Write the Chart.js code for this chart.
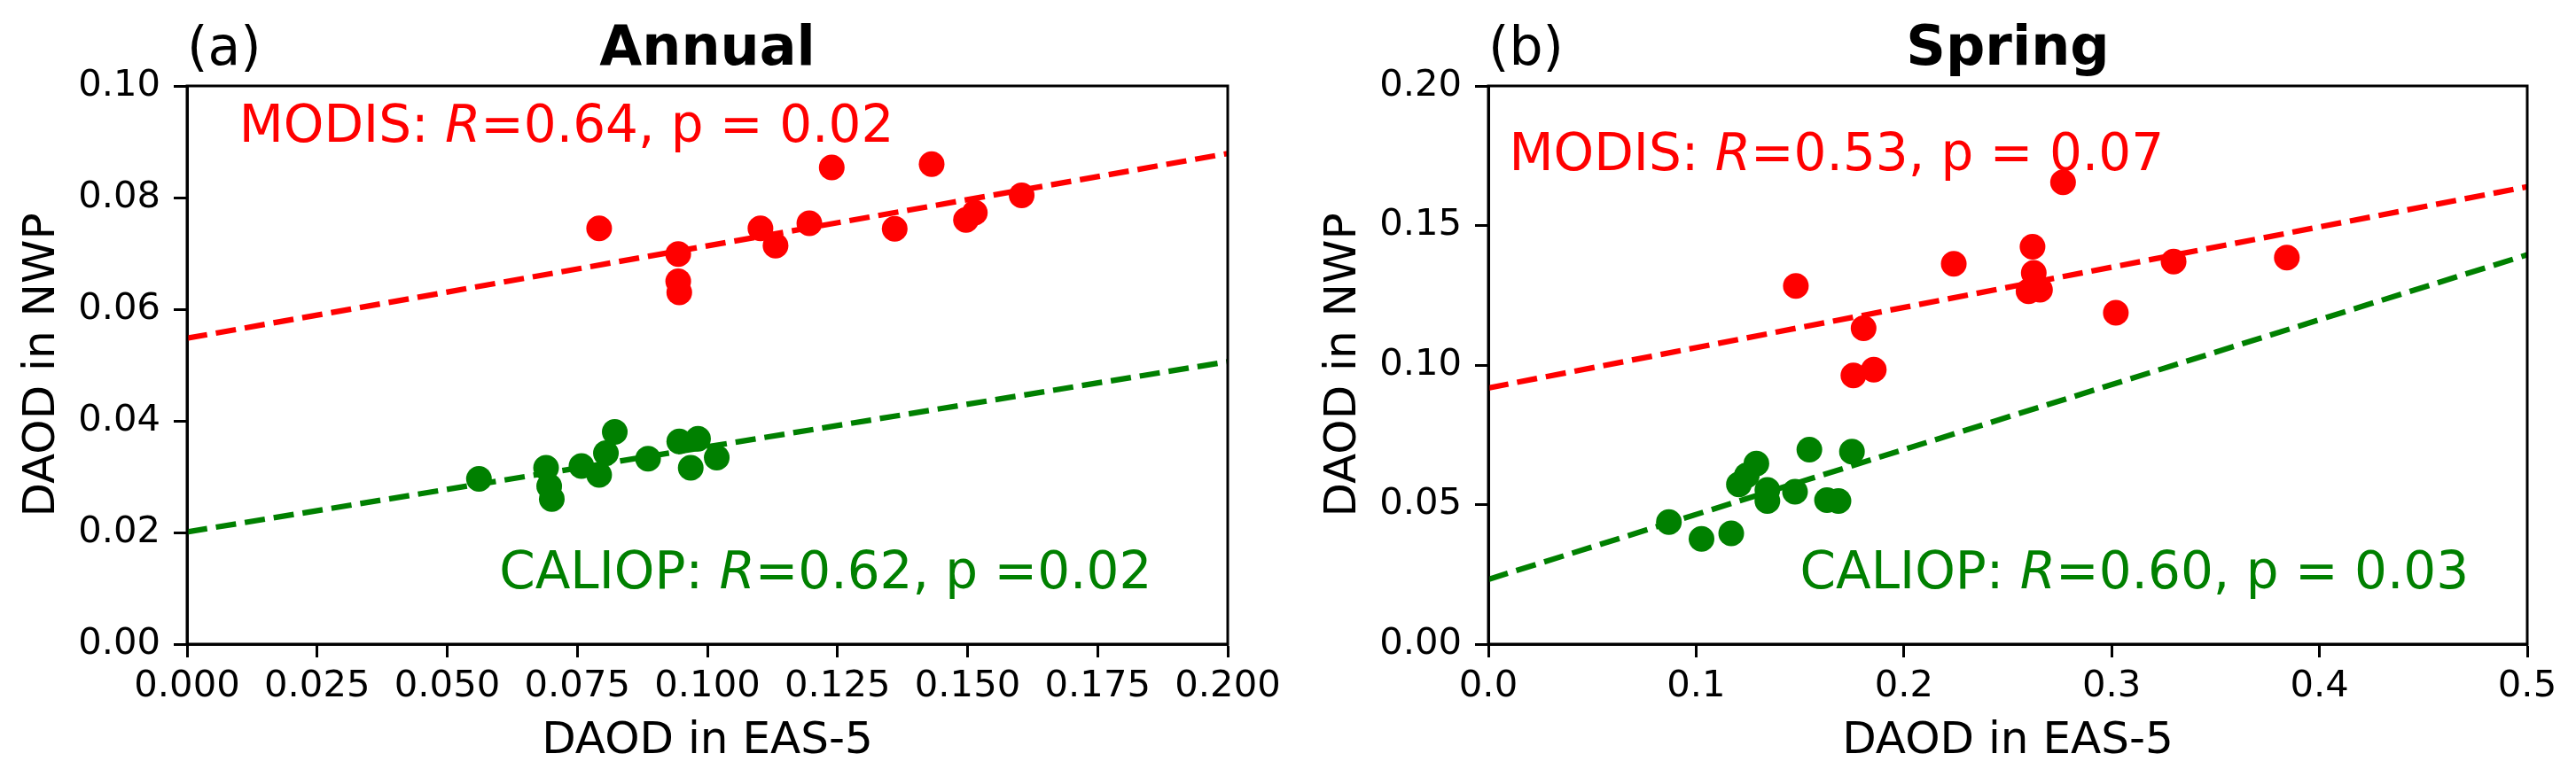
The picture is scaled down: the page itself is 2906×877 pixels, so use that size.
<!DOCTYPE html>
<html>
<head>
<meta charset="utf-8">
<script src="https://cdn.jsdelivr.net/npm/chart.js@4.4.0/dist/chart.umd.min.js"></script>
<style>
html, body { margin: 0; padding: 0; background: #fff; }
#wrap { position: relative; width: 2906px; height: 877px; }
canvas { position: absolute; top: 0; }
</style>
</head>
<body>
<div id="wrap">
<canvas id="annualChart" width="1453" height="877" style="left:0px"></canvas>
<canvas id="springChart" width="1453" height="877" style="left:1453px"></canvas>
</div>
<script>
// (a) Annual
const annualModisX = [0.0792, 0.0944, 0.0944, 0.0946, 0.1102, 0.1131, 0.1196, 0.1239, 0.1360, 0.1431, 0.1497, 0.1514, 0.1604];
const annualModisY = [0.0745, 0.0699, 0.0650, 0.0630, 0.0745, 0.0714, 0.0754, 0.0854, 0.0744, 0.0860, 0.0760, 0.0773, 0.0804];
const annualCaliopX = [0.0561, 0.0690, 0.0696, 0.0701, 0.0758, 0.0792, 0.0805, 0.0822, 0.0886, 0.0946, 0.0968, 0.0982, 0.1018];
const annualCaliopY = [0.0296, 0.0316, 0.0283, 0.0260, 0.0319, 0.0303, 0.0342, 0.0380, 0.0332, 0.0363, 0.0316, 0.0368, 0.0334];
const annualFitX = [0, 0.2];
const annualModisFit = [0.0548, 0.0879];
const annualCaliopFit = [0.0201, 0.0506];
const annualXTicks = ['0.000', '0.025', '0.050', '0.075', '0.100', '0.125', '0.150', '0.175', '0.200'];
const annualYTicks = ['0.00', '0.02', '0.04', '0.06', '0.08', '0.10'];

// (b) Spring
const springModisX = [0.1480, 0.1757, 0.1855, 0.1806, 0.2240, 0.2600, 0.2655, 0.2625, 0.2619, 0.2766, 0.3020, 0.3298, 0.3843];
const springModisY = [0.1283, 0.0963, 0.0983, 0.1132, 0.1363, 0.1264, 0.1270, 0.1330, 0.1424, 0.1655, 0.1187, 0.1371, 0.1385];
const springCaliopX = [0.0869, 0.1026, 0.1169, 0.1206, 0.1244, 0.1290, 0.1343, 0.1343, 0.1476, 0.1545, 0.1630, 0.1685, 0.1750];
const springCaliopY = [0.0437, 0.0377, 0.0397, 0.0572, 0.0605, 0.0647, 0.0513, 0.0552, 0.0546, 0.0697, 0.0516, 0.0513, 0.0690];
const springFitX = [0, 0.5];
const springModisFit = [0.0918, 0.1639];
const springCaliopFit = [0.0232, 0.1395];
const springXTicks = ['0.0', '0.1', '0.2', '0.3', '0.4', '0.5'];
const springYTicks = ['0.00', '0.05', '0.10', '0.15', '0.20'];

const RED = '#ff0000';
const GREEN = '#008000';
const FONT = '"DejaVu Sans", "Liberation Sans", sans-serif';

function toPoints(xs, ys) {
    return xs.map((x, i) => ({ x: x, y: ys[i] }));
}

// frame, titles, axis labels and the R/p notes
const decorPlugin = {
    id: 'decor',
    afterDraw(chart, args, opts) {
        const ctx = chart.ctx;
        const a = chart.chartArea;
        const xs = chart.scales.x;
        const ys = chart.scales.y;
        ctx.save();
        ctx.strokeStyle = '#000';
        ctx.lineWidth = 3;
        ctx.strokeRect(a.left, a.top, a.right - a.left, a.bottom - a.top);

        ctx.fillStyle = '#000';
        ctx.textBaseline = 'alphabetic';
        ctx.font = 'bold 62px ' + FONT;
        ctx.textAlign = 'center';
        ctx.fillText(opts.title, (a.left + a.right) / 2, a.top - 24);
        ctx.font = '60px ' + FONT;
        ctx.textAlign = 'left';
        ctx.fillText(opts.letter, a.left, a.top - 24);

        ctx.font = '50px ' + FONT;
        ctx.textAlign = 'center';
        ctx.fillText(opts.xLabel, (a.left + a.right) / 2, a.bottom + 123);
        ctx.save();
        ctx.translate(a.left - 150, (a.top + a.bottom) / 2);
        ctx.rotate(-Math.PI / 2);
        ctx.fillText(opts.yLabel, 0, 0);
        ctx.restore();

        opts.notes.forEach(n => {
            let px = xs.getPixelForValue(n.x);
            const py = ys.getPixelForValue(n.y);
            ctx.fillStyle = n.color;
            ctx.textAlign = 'left';
            n.parts.forEach(p => {
                ctx.font = (p.italic ? 'italic ' : '') + '58px ' + FONT;
                ctx.fillText(p.t, px, py);
                px += ctx.measureText(p.t).width;
            });
        });
        ctx.restore();
    }
};

function axisOpts(tickLabels, fitSize, isX) {
    const vals = tickLabels.map(l => parseFloat(l));
    return {
        type: 'linear',
        min: vals[0],
        max: vals[vals.length - 1],
        afterBuildTicks: s => { s.ticks = vals.map(v => ({ value: v })); },
        afterFit: s => {
            if (isX) s.height = fitSize; else s.width = fitSize;
        },
        grid: {
            drawOnChartArea: false,
            drawTicks: true,
            tickLength: 15,
            tickWidth: 3,
            tickColor: '#000',
            color: '#000'
        },
        border: { display: true, color: '#000', width: 3 },
        ticks: {
            autoSkip: false,
            maxRotation: 0,
            padding: isX ? 8 : 15,
            color: '#000',
            font: { family: FONT, size: 41.7 },
            callback: (v, i) => tickLabels[i]
        }
    };
}

function makeChart(id, p) {
    return new Chart(document.getElementById(id), {
        type: 'scatter',
        data: {
            datasets: [
                {
                    label: 'MODIS fit',
                    data: toPoints(p.fitX, p.modisFit),
                    showLine: true,
                    borderColor: RED,
                    borderWidth: 6.25,
                    borderDash: [23, 10],
                    pointRadius: 0,
                    order: 0
                },
                {
                    label: 'CALIOP fit',
                    data: toPoints(p.fitX, p.caliopFit),
                    showLine: true,
                    borderColor: GREEN,
                    borderWidth: 6.25,
                    borderDash: [23, 10],
                    pointRadius: 0,
                    order: 0
                },
                {
                    label: 'MODIS',
                    data: toPoints(p.modisX, p.modisY),
                    backgroundColor: RED,
                    borderWidth: 0,
                    pointRadius: 14.5,
                    order: 1
                },
                {
                    label: 'CALIOP',
                    data: toPoints(p.caliopX, p.caliopY),
                    backgroundColor: GREEN,
                    borderWidth: 0,
                    pointRadius: 14.5,
                    order: 1
                }
            ]
        },
        options: {
            responsive: false,
            animation: false,
            devicePixelRatio: 1,
            layout: { padding: { left: 0, top: 97, right: p.rightPad, bottom: 0 } },
            scales: {
                x: axisOpts(p.xTicks, 150, true),
                y: axisOpts(p.yTicks, p.yAxisWidth, false)
            },
            plugins: {
                legend: { display: false },
                tooltip: { enabled: false },
                decor: {
                    title: p.title,
                    letter: p.letter,
                    xLabel: 'DAOD in EAS-5',
                    yLabel: 'DAOD in NWP',
                    notes: p.notes
                }
            }
        },
        plugins: [decorPlugin]
    });
}

makeChart('annualChart', {
    modisX: annualModisX, modisY: annualModisY,
    caliopX: annualCaliopX, caliopY: annualCaliopY,
    fitX: annualFitX, modisFit: annualModisFit, caliopFit: annualCaliopFit,
    xTicks: annualXTicks, yTicks: annualYTicks,
    yAxisWidth: 211, rightPad: 68,
    title: 'Annual', letter: '(a)',
    notes: [
        { x: 0.01, y: 0.09, color: RED, parts: [{ t: 'MODIS: ' }, { t: 'R', italic: true }, { t: '=0.64, p = 0.02' }] },
        { x: 0.06, y: 0.01, color: GREEN, parts: [{ t: 'CALIOP: ' }, { t: 'R', italic: true }, { t: '=0.62, p =0.02' }] }
    ]
});

makeChart('springChart', {
    modisX: springModisX, modisY: springModisY,
    caliopX: springCaliopX, caliopY: springCaliopY,
    fitX: springFitX, modisFit: springModisFit, caliopFit: springCaliopFit,
    xTicks: springXTicks, yTicks: springYTicks,
    yAxisWidth: 226, rightPad: 55,
    title: 'Spring', letter: '(b)',
    notes: [
        { x: 0.01, y: 0.17, color: RED, parts: [{ t: 'MODIS: ' }, { t: 'R', italic: true }, { t: '=0.53, p = 0.07' }] },
        { x: 0.15, y: 0.02, color: GREEN, parts: [{ t: 'CALIOP: ' }, { t: 'R', italic: true }, { t: '=0.60, p = 0.03' }] }
    ]
});
</script>
</body>
</html>
